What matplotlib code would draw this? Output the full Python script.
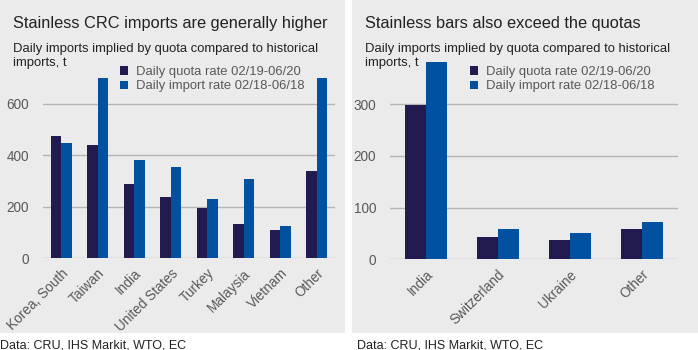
import matplotlib
matplotlib.use("Agg")
import matplotlib.pyplot as plt
from matplotlib.patches import Rectangle, Patch
import numpy as np

plt.rcParams['font.family'] = ['Liberation Sans', 'DejaVu Sans']

# Data
crc_categories = ["Korea, South", "Taiwan", "India", "United States", "Turkey", "Malaysia", "Vietnam", "Other"]
crc_quota = [475, 438, 286, 239, 195, 132, 110, 340]
crc_import = [447, 700, 380, 354, 231, 308, 126, 700]

bar_categories = ["India", "Switzerland", "Ukraine", "Other"]
bar_quota = [299, 44, 38, 58]
bar_import = [381, 58, 51, 72]

series_labels = ["Daily quota rate 02/19-06/20", "Daily import rate 02/18-06/18"]
titles = ["Stainless CRC imports are generally higher", "Stainless bars also exceed the quotas"]
subtitle_lines = ["Daily imports implied by quota compared to historical", "imports, t"]
footer = "Data: CRU, IHS Markit, WTO, EC"

NAVY = "#211b4f"
BLUE = "#0052a0"
BG = "#ebebeb"
GRID = "#b5b5b5"
TXT = "#595959"

W, H = 698, 350
fig = plt.figure(figsize=(W / 100, H / 100), dpi=100)
fig.patch.set_facecolor("white")

def box(x0, y0, x1, y1):
    # pixel coords (top-left origin) -> figure fraction [l, b, w, h]
    return [x0 / W, 1 - y1 / H, (x1 - x0) / W, (y1 - y0) / H]

# panel backgrounds
fig.patches.append(Rectangle((0, 1 - 333 / H), 345 / W, 333 / H, transform=fig.transFigure,
                             facecolor=BG, edgecolor="none", zorder=-5))
fig.patches.append(Rectangle((352 / W, 1 - 333 / H), 346 / W, 333 / H, transform=fig.transFigure,
                             facecolor=BG, edgecolor="none", zorder=-5))

def draw(axbox, cats, q, imp, ylim, yticks, title_x, legend_x, title):
    ax = fig.add_axes(box(*axbox))
    ax.set_facecolor("none")
    x = np.arange(len(cats))
    w = 0.29
    ax.bar(x - w, q, width=w, align="edge", color=NAVY, zorder=3)
    ax.bar(x, imp, width=w, align="edge", color=BLUE, zorder=3)
    ax.set_xlim(-0.5, len(cats) - 0.5)
    ax.set_ylim(*ylim)
    ax.set_yticks(yticks)
    ax.yaxis.grid(True, color=GRID, linewidth=1)
    ax.set_axisbelow(True)
    for s in ax.spines.values():
        s.set_visible(False)
    ax.tick_params(axis="both", length=0, labelsize=9.8, labelcolor=TXT)
    ax.tick_params(axis="y", pad=10)
    ax.set_xticks(x)
    ax.set_xticklabels(cats, rotation=45, ha="right", rotation_mode="anchor")
    ax.tick_params(axis="x", pad=6)
    fig.text(title_x / W, 1 - 28 / H, title, fontsize=11.8, color="#222222", va="baseline")
    fig.text(title_x / W, 1 - 52 / H, subtitle_lines[0], fontsize=9.4, color="#222222", va="baseline")
    fig.text(title_x / W, 1 - 66 / H, subtitle_lines[1], fontsize=9.4, color="#222222", va="baseline")
    handles = [Patch(facecolor=NAVY), Patch(facecolor=BLUE)]
    fig.legend(handles, series_labels, loc="upper left",
               bbox_to_anchor=(legend_x / W, 1 - 66 / H), bbox_transform=fig.transFigure,
               frameon=False, fontsize=9.4, handlelength=0.6, handleheight=0.6,
               handletextpad=0.6, labelspacing=0.18, borderpad=0, borderaxespad=0,
               labelcolor=TXT)
    return ax

draw((43, 78, 335, 258), crc_categories, crc_quota, crc_import, (0, 700), [0, 200, 400, 600],
     13, 120, titles[0])
draw((390, 52.6, 678, 259.3), bar_categories, bar_quota, bar_import, (0, 400), [0, 100, 200, 300],
     365, 470, titles[1])

fig.text(0 / W, 1 - 348 / H, footer, fontsize=9, color="#222222", va="baseline")
fig.text(357 / W, 1 - 348 / H, footer, fontsize=9, color="#222222", va="baseline")

fig.savefig("out.png", dpi=100)
